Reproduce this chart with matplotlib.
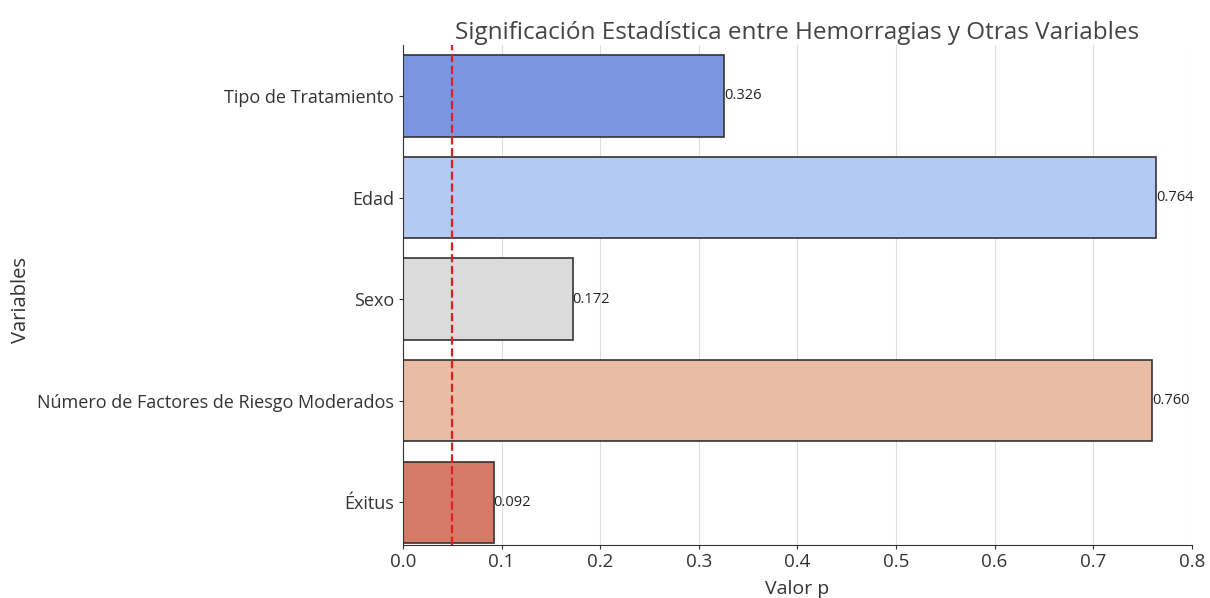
import matplotlib.pyplot as plt

# p-values
variables = ["Tipo de Tratamiento", "Edad", "Sexo",
             "Número de Factores de Riesgo Moderados", "Éxitus"]
p_values = [0.326, 0.764, 0.172, 0.760, 0.092]
threshold = 0.05
x_ticks = [0.0, 0.1, 0.2, 0.3, 0.4, 0.5, 0.6, 0.7, 0.8]

bar_colors = ["#7b96e0", "#b4caf2", "#dcdbdb", "#ebbca4", "#d67a68"]

plt.rcParams['font.family'] = ['Open Sans', 'DejaVu Sans']

fig = plt.figure(figsize=(12.1, 5.98), dpi=100)
ax = fig.add_axes([0.333, 0.0886, 0.652, 0.836])

pos = range(len(variables))
ax.barh(pos, p_values, height=0.8, color=bar_colors,
        edgecolor="#333333", linewidth=1.2)
ax.axvline(threshold, color="#e02020", linestyle="--", linewidth=1.6)

# value labels at the end of each bar
for i, v in enumerate(p_values):
    ax.text(v, i, f"{v:.3f}", ha="left", va="center", fontsize=10.5, color="#222222")

ax.set_yticks(list(pos))
ax.set_yticklabels(variables, fontsize=13, color="#333333")
ax.set_ylim(4.42, -0.5)
ax.set_xlim(0, 0.8)
ax.set_xticks(x_ticks)
ax.set_xticklabels([f"{t:.1f}" for t in x_ticks], fontsize=13.5, color="#333333")

ax.grid(axis="x", color="#dddddd", linewidth=0.8)
ax.set_axisbelow(True)
for s in ["top", "right"]:
    ax.spines[s].set_visible(False)
for s in ["left", "bottom"]:
    ax.spines[s].set_color("#333333")
ax.tick_params(axis="both", length=3, color="#333333")
ax.tick_params(axis="x", pad=3)

ax.set_xlabel("Valor p", fontsize=14, color="#333333", labelpad=6)
ax.set_ylabel("Variables", fontsize=14.5, color="#333333")
ax.yaxis.set_label_coords(-0.472, 0.49)
ax.set_title("Significación Estadística entre Hemorragias y Otras Variables",
             fontsize=17.5, color="#444444", pad=4)

fig.savefig("out.png", dpi=100)
